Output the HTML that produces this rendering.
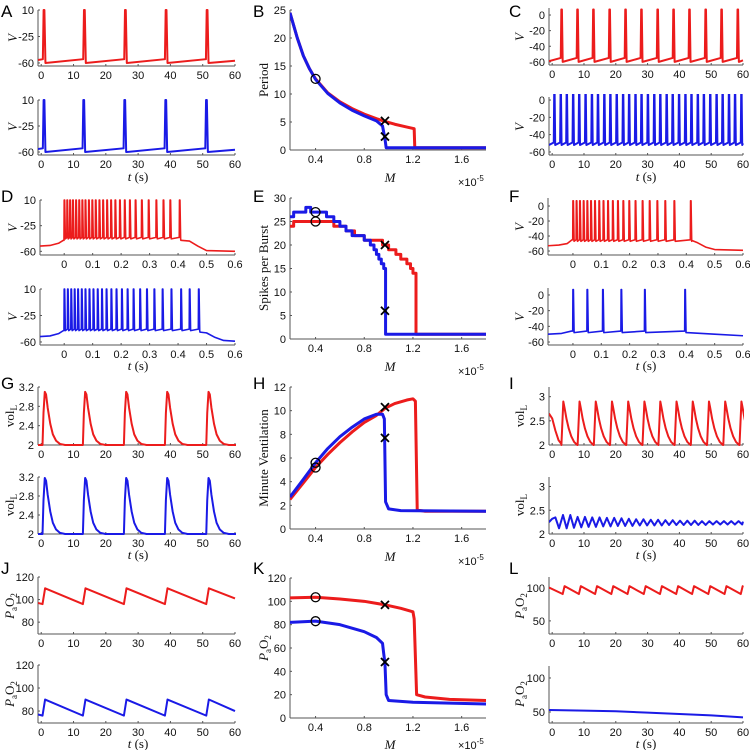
<!DOCTYPE html>
<html><head><meta charset="utf-8">
<style>
html,body{margin:0;padding:0;background:#fff;}
svg{display:block;}
text{font-family:"Liberation Sans",Arial,sans-serif;}
.tick{font-size:11px;fill:#111;}
.lab{font-family:"Liberation Serif",serif;font-size:13px;fill:#111;}
.pl{font-size:17px;fill:#000;}
</style></head>
<body>
<svg id="fig" width="750" height="750" viewBox="0 0 750 750" xmlns="http://www.w3.org/2000/svg"></svg>
<script>
// ---------- DATA ----------
const aRedSpikes=[0.5,13.0,25.7,38.3,51.0];
const aBlueSpikes=[0.5,12.8,25.5,38.2,50.8];
const cRedSpikes=[2.7,7.7,12.7,17.8,22.8,27.8,32.9,37.9,42.9,48.0,53.0,58.1];
const cBlueSpikes=[0.5,2.5,4.4,6.4,8.3,10.3,12.3,14.2,16.2,18.1,20.1,22.1,24.0,26.0,27.9,29.9,31.9,33.8,35.8,37.7,39.7,41.7,43.6,45.6,47.5,49.5,51.5,53.4,55.4,57.3,59.3];
const dRedSpikes=[0,0.010,0.020,0.030,0.041,0.052,0.063,0.074,0.086,0.098,0.110,0.123,0.136,0.150,0.164,0.179,0.195,0.212,0.230,0.250,0.272,0.296,0.323,0.348,0.372,0.405];
const dBlueSpikes=[0,0.012,0.024,0.036,0.048,0.061,0.074,0.088,0.102,0.117,0.132,0.148,0.165,0.183,0.202,0.222,0.243,0.266,0.290,0.316,0.345,0.376,0.410,0.440,0.472];
const fRedSpikes=[0,0.012,0.024,0.037,0.050,0.063,0.077,0.092,0.107,0.123,0.140,0.158,0.177,0.198,0.220,0.245,0.270,0.297,0.325,0.357,0.415];
const fBlueSpikes=[0,0.050,0.105,0.170,0.253,0.395];
const dRedPre=[[-0.09,-53],[-0.05,-52],[-0.02,-49],[-0.003,-45]];
const dRedPost=[[0.41,-45],[0.44,-46],[0.47,-53],[0.5,-59],[0.6,-60]];
const dBluePre=[[-0.09,-53],[-0.05,-52],[-0.02,-49],[-0.003,-45]];
const dBluePost=[[0.477,-47],[0.5,-48],[0.53,-54],[0.56,-58],[0.6,-59]];
const fRedPre=[[-0.09,-53],[-0.05,-52],[-0.02,-50],[-0.003,-45]];
const fRedPost=[[0.42,-46],[0.44,-49],[0.47,-55],[0.5,-58],[0.6,-59]];
const fBluePre=[[-0.09,-50],[-0.04,-49],[-0.005,-46]];
const fBluePost=[[0.40,-48],[0.5,-50],[0.6,-52]];
const periodM=[0.19,0.25,0.3,0.35,0.4,0.5,0.6,0.7,0.8,0.9,0.97,1.05,1.15,1.21,1.215,1.8];
const periodRed=[24.5,20,16.8,14.5,12.7,10.2,8.6,7.4,6.4,5.6,5.1,4.6,4.1,3.8,0.4,0.4];
const periodBlueM=[0.19,0.25,0.3,0.35,0.4,0.5,0.6,0.7,0.8,0.9,0.95,0.97,0.98,1.8];
const periodBlue=[24.5,20,16.8,14.5,12.6,10.1,8.4,7.1,6.1,5.2,4.3,2.0,0.4,0.4];
const spbRedM=[0.19,0.22,0.55,0.65,0.72,0.8,0.95,1.0,1.06,1.1,1.15,1.18,1.2,1.225,1.8];
const spbRed=[24,25,24,23,22,21,20,19,18,17,16,15,14,1];
const spbBlueM=[0.19,0.22,0.32,0.36,0.49,0.55,0.6,0.65,0.7,0.8,0.85,0.88,0.9,0.92,0.94,0.96,0.975,1.8];
const spbBlue=[26,27,28,27,26,25,24,23,22,21,20,19,18,17,16,15,1];
const mvRedM=[0.19,0.3,0.4,0.5,0.6,0.7,0.8,0.9,0.97,1.05,1.15,1.2,1.22,1.235,1.3,1.8];
const mvRed=[2.5,3.9,5.2,6.3,7.3,8.2,9.0,9.6,10.2,10.6,10.9,11.0,10.8,1.6,1.5,1.5];
const mvBlueM=[0.19,0.3,0.4,0.5,0.6,0.7,0.8,0.9,0.95,0.965,0.975,1.0,1.1,1.8];
const mvBlue=[2.7,4.2,5.6,6.8,7.8,8.6,9.3,9.7,9.7,9.3,2.3,1.7,1.55,1.5];
const paRedM=[0.19,0.4,0.6,0.8,0.97,1.1,1.2,1.21,1.23,1.3,1.5,1.8];
const paRed=[103,103.5,102,100,97,94,91,85,20,18,16,15];
const paBlueM=[0.19,0.4,0.6,0.8,0.9,0.95,0.96,0.97,0.98,1.0,1.2,1.8];
const paBlue=[82,83,80,74,69,64,55,47,20,15,13.5,12];
const gRedStarts=[0.4,12.9,25.6,38.3,51.1];
const gBlueStarts=[0.4,12.9,25.6,38.3,51.1];
const gShapeDt=[0,0.3,0.7,1.1,1.6,2.4,3.2,4.2,5.4,7];
const gShapeFrac=[0,0.6,1,0.95,0.7,0.4,0.2,0.08,0.02,0];
const iRedStarts=[2.9,8.0,13.1,18.2,23.3,28.4,33.4,38.5,43.6,48.7,53.8,58.9];
const iShapeDt=[0,0.6,1.0,1.6,2.3,3.1,4.0,5.0];
const iShapeFrac=[0,1,0.85,0.6,0.38,0.2,0.07,0];
const iRedPre=[[-1,2.65],[0,2.55],[1,2.3],[2,2.1],[2.9,2.02]];
const iBluePeakT=[1.0,3.4,5.7,8.0,10.3,12.6,14.9,17.2,19.5,21.8,24.1,26.4,28.7,31.0,33.3,35.6,37.9,40.2,42.5,44.8,47.1,49.4,51.7,54.0,56.3,58.6];
const iBlueHi=[2.35,2.4,2.4,2.36,2.36,2.35,2.35,2.34,2.34,2.33,2.32,2.31,2.31,2.3,2.3,2.29,2.29,2.28,2.28,2.28,2.27,2.27,2.27,2.27,2.27,2.27];
const iBlueLo=[2.12,2.12,2.13,2.14,2.15,2.15,2.16,2.16,2.17,2.17,2.17,2.18,2.18,2.18,2.18,2.19,2.19,2.19,2.19,2.19,2.19,2.2,2.2,2.2,2.2,2.2];
const jRedJumps=[0.4,12.9,25.6,38.3,51.1];
const jBlueJumps=[0.4,12.9,25.6,38.3,51.1];
const lRedJumps=[3.3,8.4,13.5,18.6,23.7,28.8,33.9,39.0,44.0,49.1,54.2,59.3];
const lBlue=[[-1,53],[10,52],[20,51],[30,49],[40,47],[50,45],[60,42]];
const tTicks=[0,10,20,30,40,50,60];
const sTicks=[0,0.1,0.2,0.3,0.4,0.5,0.6];
const mTicks=[0.4,0.8,1.2,1.6];

// ---------- HELPERS ----------
const NS='http://www.w3.org/2000/svg';
const svg=document.getElementById('fig');
const RED='#ec1c1c', BLUE='#1a1ae6';
let clipN=0;
function mk(tag,attrs,parent){const e=document.createElementNS(NS,tag);for(const k in attrs)e.setAttribute(k,attrs[k]);(parent||svg).appendChild(e);return e;}
function axes(name,box,xd,yd,xt,yt){
  const g=mk('g',{});
  
  
  const sx=v=>box.l+(v-xd[0])/(xd[1]-xd[0])*(box.r-box.l);
  const sy=v=>box.b-(v-yd[0])/(yd[1]-yd[0])*(box.b-box.t);
  const id='c'+(clipN++);
  const cp=mk('clipPath',{id:id},g);
  mk('rect',{x:box.l,y:box.t-3,width:box.r-box.l+1,height:box.b-box.t+4},cp);
  const yax=mk('line',{x1:box.l,y1:box.t,x2:box.l,y2:box.b,stroke:'#555','stroke-width':1},g);
  
  
  const xax=mk('line',{x1:box.l,y1:box.b,x2:box.r,y2:box.b,stroke:'#555','stroke-width':1},g);
  
  
  xt.forEach(v=>{
    const x=sx(v);
    mk('line',{x1:x,y1:box.b,x2:x,y2:box.b-2,stroke:'#555'},g);
    const t=mk('text',{x:x,y:box.b+13,'text-anchor':'middle',class:'tick'},g);
    
    
    t.textContent=String(v);
  });
  yt.forEach(v=>{
    const y=sy(v);
    mk('line',{x1:box.l,y1:y,x2:box.l+2,y2:y,stroke:'#555'},g);
    const t=mk('text',{x:box.l-4,y:y+4,'text-anchor':'end',class:'tick'},g);
    
    
    t.textContent=String(v);
  });
  const pg=mk('g',{'clip-path':'url(#'+id+')'},g);
  return {sx,sy,g:pg,box};
}
function line(ax,pts,color,w,name){
  const d=pts.map((p,i)=>(i?'L':'M')+ax.sx(p[0]).toFixed(2)+' '+ax.sy(p[1]).toFixed(2)).join('');
  const p=mk('path',{d:d,fill:'none',stroke:color,'stroke-width':w,'stroke-linejoin':'round'},ax.g);
  
  
  return p;
}
function zipXY(xs,ys){return xs.map((x,i)=>[x,ys[i]]);}
function steps(xs,ys){const p=[];ys.forEach((v,i)=>{p.push([xs[i],v]);p.push([xs[i+1],v]);});return p;}
function spikeTrain(spk,o){
  const p=[[o.x0,o.v0]];
  spk.forEach(s=>{p.push([s,o.pre]);p.push([s+o.w*0.3,o.peak]);p.push([s+o.w*0.6,o.peak]);p.push([s+o.w,o.trough]);});
  p.push([o.x1,o.vEnd]);return p;
}
function burst(pre,spk,post,peak,trough,w){
  const p=pre.slice();
  spk.forEach((s,i)=>{p.push([s-w*0.2,i?trough+2:pre[pre.length-1][1]]);p.push([s,peak]);p.push([s+w*0.4,peak]);p.push([s+w,trough]);});
  return p.concat(post);
}
function pulses(starts,dts,fr,base,peak,pre,x1){
  const p=pre?pre.slice():[[-2,base]];
  starts.forEach(s=>dts.forEach((d,i)=>p.push([s+d,base+(peak-base)*fr[i]])));
  p.push([x1,base]);return p;
}
function saw(jumps,lo,hi,rise,startPts,endPt){
  const p=startPts.slice();
  jumps.forEach(s=>{p.push([s,lo]);p.push([s+rise,hi]);});
  p.push(endPt);return p;
}
function circle(ax,x,y){const c=mk('circle',{cx:ax.sx(x),cy:ax.sy(y),r:4.5,fill:'none',stroke:'#000','stroke-width':1.3},ax.g.parentNode);
  
  }
function cross(ax,x,y){const X=ax.sx(x),Y=ax.sy(y),s=4;
  const c=mk('path',{d:`M${X-s} ${Y-s}L${X+s} ${Y+s}M${X-s} ${Y+s}L${X+s} ${Y-s}`,stroke:'#000','stroke-width':1.8},ax.g.parentNode);
  
  }
function text(x,y,str,cls,name,rot,extra){
  const t=mk('text',Object.assign({x:x,y:y,class:cls},extra||{}));
  
  
  if(rot)t.setAttribute('transform',`rotate(-90 ${x} ${y})`);
  t.innerHTML=str;return t;
}
const VL='<tspan font-style="italic">V</tspan>';
const VOL='vol<tspan font-size="9" dy="3">L</tspan>';
const PAO='<tspan font-style="italic">P</tspan><tspan font-size="9" dy="3">a</tspan><tspan dy="-3">O</tspan><tspan font-size="9" dy="3">2</tspan>';
function ylab(x,y,str,name){text(x,y,str,'lab',name,true,{'text-anchor':'middle'});}

// ---------- PANEL LETTERS ----------
[['A',1,17],['B',253,17],['C',509,17],['D',1,202],['E',253,202],['F',509,202],['G',1,389],['H',253,389],['I',509,389],['J',1,574],['K',253,574],['L',509,574]].forEach(a=>{
  text(a[1],a[2],a[0],'pl','panel-label-'+a[0].toLowerCase());
});

// ---------- A ----------
let ax=axes('panel-a-top',{l:38,r:235,t:10,b:66},[-1,60],[-64,10],tTicks,[-60,-25,10]);
line(ax,spikeTrain(aRedSpikes,{x0:-1,v0:-56,pre:-55,peak:10,trough:-60,w:0.8,x1:60,vEnd:-57}),RED,2,'voltage-red');
ylab(17,38,VL,'y-axis-title');
ax=axes('panel-a-bottom',{l:38,r:235,t:100,b:155},[-1,60],[-64,10],tTicks,[-60,-25,10]);
line(ax,spikeTrain(aBlueSpikes,{x0:-1,v0:-56,pre:-55,peak:10,trough:-60,w:0.8,x1:60,vEnd:-57}),BLUE,2,'voltage-blue');
ylab(17,127,VL,'y-axis-title');
text(138,181,'<tspan font-style="italic">t</tspan> (s)','lab','x-axis-title',false,{'text-anchor':'middle'});

// ---------- B ----------
ax=axes('panel-b',{l:290,r:486,t:10,b:150},[0.19,1.8],[0,25],mTicks,[0,5,10,15,20,25]);
line(ax,zipXY(periodM,periodRed),RED,3,'period-red');
line(ax,zipXY(periodBlueM,periodBlue),BLUE,3,'period-blue');
circle(ax,0.4,12.7);cross(ax,0.97,5.2);cross(ax,0.97,2.4);
ylab(268,80,'Period','y-axis-title');
text(390,182,'<tspan font-style="italic">M</tspan>','lab','x-axis-title',false,{'text-anchor':'middle'});
text(458,186,'×10<tspan font-size="8" dy="-5">-5</tspan>','tick','x-exponent');

// ---------- C ----------
ax=axes('panel-c-top',{l:549,r:743,t:8,b:65},[-1,60],[-64,9],tTicks,[-60,-40,-20,0]);
line(ax,spikeTrain(cRedSpikes,{x0:-1,v0:-59,pre:-55,peak:7,trough:-60,w:0.6,x1:60,vEnd:-58}),RED,2,'voltage-red');
ylab(524,37,VL,'y-axis-title');
ax=axes('panel-c-bottom',{l:549,r:743,t:97,b:155},[-1,60],[-63.5,3.5],tTicks,[-60,-40,-20,0]);
line(ax,spikeTrain(cBlueSpikes,{x0:-1,v0:-52,pre:-49,peak:7,trough:-52,w:0.45,x1:60,vEnd:-50}),BLUE,2,'voltage-blue');
ylab(524,127,VL,'y-axis-title');
text(646,181,'<tspan font-style="italic">t</tspan> (s)','lab','x-axis-title',false,{'text-anchor':'middle'});

// ---------- D ----------
ax=axes('panel-d-top',{l:40,r:235,t:200,b:255},[-0.085,0.6],[-65,10],sTicks,[-60,-25,10]);
line(ax,burst(dRedPre,dRedSpikes,dRedPost,10,-43,0.004),RED,1.6,'voltage-red');
ylab(17,228,VL,'y-axis-title');
ax=axes('panel-d-bottom',{l:40,r:235,t:289,b:345},[-0.085,0.6],[-64,10],sTicks,[-60,-25,10]);
line(ax,burst(dBluePre,dBlueSpikes,dBluePost,10,-45,0.004),BLUE,1.6,'voltage-blue');
ylab(17,317,VL,'y-axis-title');
text(138,370,'<tspan font-style="italic">t</tspan> (s)','lab','x-axis-title',false,{'text-anchor':'middle'});

// ---------- E ----------
ax=axes('panel-e',{l:290,r:486,t:198,b:339},[0.19,1.8],[0,30],mTicks,[0,5,10,15,20,25,30]);
line(ax,steps(spbRedM,spbRed),RED,3,'spikes-red');
line(ax,steps(spbBlueM,spbBlue),BLUE,3,'spikes-blue');
circle(ax,0.4,27);circle(ax,0.4,25);cross(ax,0.97,20);cross(ax,0.97,6);
ylab(268,268,'Spikes per Burst','y-axis-title');
text(390,371,'<tspan font-style="italic">M</tspan>','lab','x-axis-title',false,{'text-anchor':'middle'});
text(458,375,'×10<tspan font-size="8" dy="-5">-5</tspan>','tick','x-exponent');

// ---------- F ----------
ax=axes('panel-f-top',{l:548,r:743,t:198,b:255},[-0.088,0.6],[-65.3,10.7],sTicks,[-60,-40,-20,0]);
line(ax,burst(fRedPre,fRedSpikes,fRedPost,7,-47,0.004),RED,1.6,'voltage-red');
ylab(524,227,VL,'y-axis-title');
ax=axes('panel-f-bottom',{l:548,r:743,t:288,b:345},[-0.088,0.6],[-63.8,8.9],sTicks,[-60,-40,-20,0]);
line(ax,burst(fBluePre,fBlueSpikes,fBluePost,7,-48,0.004),BLUE,1.6,'voltage-blue');
ylab(524,317,VL,'y-axis-title');
text(646,370,'<tspan font-style="italic">t</tspan> (s)','lab','x-axis-title',false,{'text-anchor':'middle'});

// ---------- G ----------
ax=axes('panel-g-top',{l:38,r:235,t:387,b:445},[-1,60],[2,3.2],tTicks,[2,2.4,2.8,3.2]);
line(ax,pulses(gRedStarts,gShapeDt,gShapeFrac,2,3.1,null,61),RED,2,'volume-red');
ylab(14,416,VOL,'y-axis-title');
ax=axes('panel-g-bottom',{l:38,r:235,t:477,b:534},[-1,60],[2,3.2],tTicks,[2,2.4,2.8,3.2]);
line(ax,pulses(gBlueStarts,gShapeDt,gShapeFrac,2,3.18,null,61),BLUE,2,'volume-blue');
ylab(14,505,VOL,'y-axis-title');
text(138,559,'<tspan font-style="italic">t</tspan> (s)','lab','x-axis-title',false,{'text-anchor':'middle'});

// ---------- H ----------
ax=axes('panel-h',{l:290,r:486,t:387,b:529},[0.19,1.8],[0,12],mTicks,[0,2,4,6,8,10,12]);
line(ax,zipXY(mvRedM,mvRed),RED,3,'ventilation-red');
line(ax,zipXY(mvBlueM,mvBlue),BLUE,3,'ventilation-blue');
circle(ax,0.4,5.6);circle(ax,0.4,5.2);cross(ax,0.97,10.3);cross(ax,0.97,7.7);
ylab(268,458,'Minute Ventilation','y-axis-title');
text(390,561,'<tspan font-style="italic">M</tspan>','lab','x-axis-title',false,{'text-anchor':'middle'});
text(458,565,'×10<tspan font-size="8" dy="-5">-5</tspan>','tick','x-exponent');

// ---------- I ----------
ax=axes('panel-i-top',{l:549,r:743,t:387,b:445},[-1,60],[2,3.2],tTicks,[2,2.5,3]);
line(ax,pulses(iRedStarts,iShapeDt,iShapeFrac,2,2.9,iRedPre,61),RED,2,'volume-red');
ylab(524,416,VOL,'y-axis-title');
ax=axes('panel-i-bottom',{l:549,r:743,t:477,b:534},[-1,60],[2,3.2],tTicks,[2,2.5,3]);
{const p=[[-1,2.25],[0,2.32]];iBluePeakT.forEach((t,i)=>{p.push([t,iBlueHi[i]]);p.push([t+1.15,iBlueLo[i]]);});p.push([60,2.26]);
line(ax,p,BLUE,2,'volume-blue');}
ylab(524,505,VOL,'y-axis-title');
text(646,559,'<tspan font-style="italic">t</tspan> (s)','lab','x-axis-title',false,{'text-anchor':'middle'});

// ---------- J ----------
ax=axes('panel-j-top',{l:38,r:235,t:577,b:634},[-1,60],[69.5,120],tTicks,[80,100,120]);
line(ax,saw(jRedJumps,96,110,0.8,[[-1,97]],[60,101]),RED,2,'pao2-red');
ylab(14,606,PAO,'y-axis-title');
ax=axes('panel-j-bottom',{l:38,r:235,t:665,b:723},[-1,60],[69.6,120],tTicks,[80,100,120]);
line(ax,saw(jBlueJumps,76,90,0.8,[[-1,77]],[60,80]),BLUE,2,'pao2-blue');
ylab(14,694,PAO,'y-axis-title');
text(138,748,'<tspan font-style="italic">t</tspan> (s)','lab','x-axis-title',false,{'text-anchor':'middle'});

// ---------- K ----------
ax=axes('panel-k',{l:290,r:486,t:578,b:718},[0.19,1.8],[0,120],mTicks,[0,20,40,60,80,100,120]);
line(ax,zipXY(paRedM,paRed),RED,3,'pao2-red');
line(ax,zipXY(paBlueM,paBlue),BLUE,3,'pao2-blue');
circle(ax,0.4,103.5);circle(ax,0.4,83);cross(ax,0.97,97);cross(ax,0.97,48);
ylab(268,648,PAO,'y-axis-title');
text(390,749,'<tspan font-style="italic">M</tspan>','lab','x-axis-title',false,{'text-anchor':'middle'});
text(458,749,'×10<tspan font-size="8" dy="-5">-5</tspan>','tick','x-exponent');

// ---------- L ----------
ax=axes('panel-l-top',{l:549,r:743,t:577,b:634},[-1,60],[30,117],tTicks,[50,100]);
line(ax,saw(lRedJumps,91,103,0.6,[[-1,101]],[60,102]),RED,2,'pao2-red');
ylab(524,606,PAO,'y-axis-title');
ax=axes('panel-l-bottom',{l:549,r:743,t:666,b:723},[-1,60],[33.8,117.6],tTicks,[50,100]);
line(ax,lBlue,BLUE,2,'pao2-blue');
ylab(524,694,PAO,'y-axis-title');
text(646,748,'<tspan font-style="italic">t</tspan> (s)','lab','x-axis-title',false,{'text-anchor':'middle'});
</script>
</body></html>
